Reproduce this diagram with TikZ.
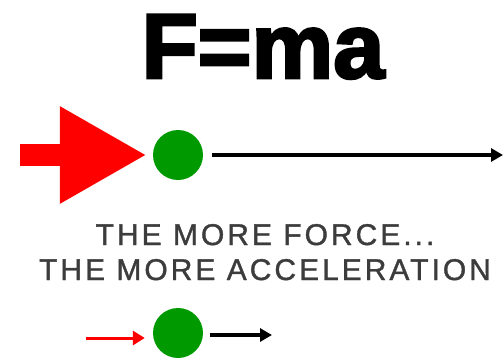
\documentclass[tikz,border=0pt]{standalone}
\usepackage{fontspec}
\usetikzlibrary{positioning,calc,arrows.meta}
\newfontfamily\titlefont{Liberation Sans Bold}[FakeBold=3]
\newfontfamily\capfont{Liberation Sans}[LetterSpace=10,FakeBold=1.2]
\definecolor{fmaRed}{HTML}{FF0000}
\definecolor{fmaGreen}{HTML}{009900}
\definecolor{fmaGrey}{HTML}{3C3C3C}

\tikzset{
  ball/.style={circle, fill=fmaGreen, minimum size=50pt, inner sep=0pt},
  caption/.style={anchor=base, inner sep=0pt, text=fmaGrey,
    font=\capfont\fontsize{30}{30}\selectfont},
  accline/.style={black, line width=3.5pt, -{Triangle[length=12pt,width=13pt]}}
}

\begin{document}
\begin{tikzpicture}[x=1pt,y=-1pt]
\useasboundingbox (0,0) rectangle (504,359);

% --- TITLE ---
\node[anchor=base, inner sep=0pt, font=\titlefont\fontsize{92}{92}\selectfont]
  (title) at (263,78) {F=ma};

% --- BIG FORCE ---
\node[ball] (ballTop) at (178,155) {};
\coordinate (forceTailTop) at (20,155);
\coordinate (accTop) at (503,155);
\draw[fmaRed, line width=22pt, -{Triangle[length=87pt,width=91pt]}]
  (forceTailTop) -- ([xshift=-6pt]ballTop.west);    % force
\draw[accline] ([xshift=9pt]ballTop.east) -- (accTop); % acceleration

% --- CAPTION ---
\node[caption] (capOne) at (265,245) {THE MORE FORCE...};
\node[caption] (capTwo) at (265,280) {THE MORE ACCELERATION};

% --- SMALL FORCE ---
\node[ball] (ballBot) at (178,333) {};
\coordinate (forceTailBot) at (86,338);
\coordinate (accBot) at (272,335);
\draw[fmaRed, line width=3pt, -{Triangle[length=12pt,width=14pt]}]
  (forceTailBot) -- ([xshift=-8pt,yshift=-5pt]ballBot.west); % force
\draw[accline] ([xshift=7pt,yshift=-2pt]ballBot.east) -- (accBot); % acceleration

\end{tikzpicture}
\end{document}
